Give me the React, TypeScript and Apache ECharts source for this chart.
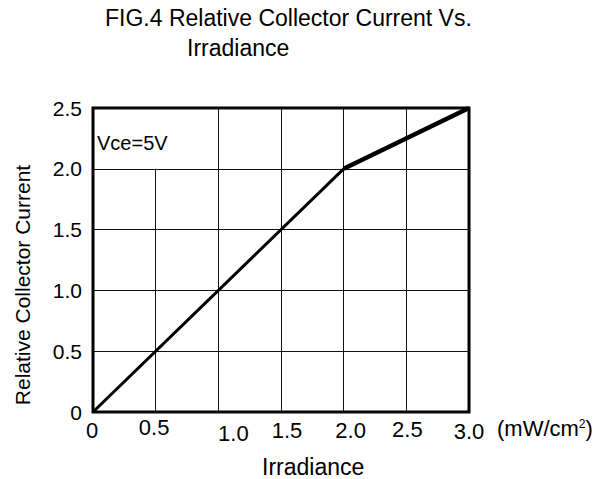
import React, { useEffect, useRef } from "react";
import * as echarts from "echarts";

// ---- data ----
const irradiance = [0, 2.0, 3.0];
const relCurrent = [0, 2.0, 2.5];
const upperIrr = [2.0, 3.0];
const upperCur = [2.0, 2.5];
const xTickLabels = ["0", "0.5", "1.0", "1.5", "2.0", "2.5", "3.0"];
const yTickLabels = ["0", "0.5", "1.0", "1.5", "2.0", "2.5"];
const vGridX = [0.5, 1.0, 1.5, 2.0, 2.5];
const vGridTop = [2.0, 2.5, 2.5, 2.5, 2.5];
// per-label nudges in the original figure: [down, right]
const xLabelNudge = [
  [3, -1],
  [0, -1.5],
  [6, 15],
  [3, 6],
  [3, 7],
  [2, 1],
  [4, 0],
];

const FONT = "'Liberation Sans', Arial, Helvetica, sans-serif";

export default function App() {
  const ref = useRef<HTMLDivElement>(null);
  useEffect(() => {
    if (!ref.current) return;
    const chart = echarts.init(ref.current, null, { renderer: "svg" });
    const rich: Record<string, any> = {};
    xLabelNudge.forEach(([dy, dx], i) => {
      rich["l" + i] = {
        fontSize: 22,
        fontFamily: FONT,
        color: "#000",
        padding: [dy, dx < 0 ? -2 * dx : 0, 0, dx > 0 ? 2 * dx : 0],
      };
    });
    const titleStyle = { fontSize: 23, fontWeight: "normal", color: "#000", fontFamily: FONT };
    chart.setOption({
      animation: false,
      backgroundColor: "#fff",
      title: [
        { text: "FIG.4 Relative Collector Current Vs.", left: 105, top: 6, padding: 0, textStyle: titleStyle },
        { text: "Irradiance", left: 187, top: 36, padding: 0, textStyle: titleStyle },
        { text: "Irradiance", left: 262, top: 455, padding: 0, textStyle: titleStyle },
        {
          text: "Vce=5V",
          left: 97,
          top: 133,
          padding: 0,
          textStyle: { fontSize: 20, fontWeight: "normal", color: "#000", fontFamily: FONT },
        },
      ],
      grid: {
        left: 93,
        right: 147,
        top: 108,
        bottom: 67,
        show: true,
        borderColor: "#000",
        borderWidth: 3,
        backgroundColor: "transparent",
      },
      xAxis: {
        type: "value",
        min: 0,
        max: 3,
        interval: 0.5,
        name: "(mW/cm{sup|2})",
        nameLocation: "end",
        nameGap: 28,
        nameTextStyle: {
          fontSize: 22,
          fontFamily: FONT,
          color: "#000",
          padding: [33, 0, 0, 0],
          rich: { sup: { fontSize: 12, fontFamily: FONT, color: "#000", padding: [0, 0, 10, 0] } },
        },
        axisLine: { show: false },
        axisTick: { show: false },
        splitLine: { show: false },
        axisLabel: {
          margin: 4,
          showMinLabel: true,
          showMaxLabel: true,
          fontSize: 22,
          fontFamily: FONT,
          color: "#000",
          formatter: (v: number) => {
            const i = Math.round(v / 0.5);
            return `{l${i}|${xTickLabels[i]}}`;
          },
          rich,
        },
      },
      yAxis: {
        type: "value",
        min: 0,
        max: 2.5,
        interval: 0.5,
        name: "Relative Collector Current",
        nameLocation: "middle",
        nameRotate: 90,
        nameGap: 60,
        nameTextStyle: { fontSize: 21, fontFamily: FONT, color: "#000", padding: [0, 50, 0, 0] },
        axisLine: { show: false },
        axisTick: { show: false },
        splitLine: { show: true, lineStyle: { color: "#111", width: 1 } },
        axisLabel: {
          margin: 11,
          fontSize: 21,
          fontFamily: FONT,
          color: "#000",
          formatter: (v: number) => yTickLabels[Math.round(v / 0.5)],
        },
      },
      series: [
        {
          type: "line",
          data: irradiance.map((x, i) => [x, relCurrent[i]]),
          symbol: "none",
          lineStyle: { color: "#000", width: 3 },
          z: 5,
          markLine: {
            silent: true,
            symbol: "none",
            label: { show: false },
            lineStyle: { color: "#111", width: 1, type: "solid" },
            data: vGridX.map((x, i) => [{ coord: [x, 0] }, { coord: [x, vGridTop[i]] }]),
            z: 1,
          },
        },
        {
          type: "line",
          data: upperIrr.map((x, i) => [x, upperCur[i]]),
          symbol: "none",
          lineStyle: { color: "#000", width: 4.5 },
          z: 6,
        },
      ],
    });
    return () => chart.dispose();
  }, []);
  return <div ref={ref} style={{ width: 616, height: 479, position: "absolute", left: 0, top: 0 }} />;
}
